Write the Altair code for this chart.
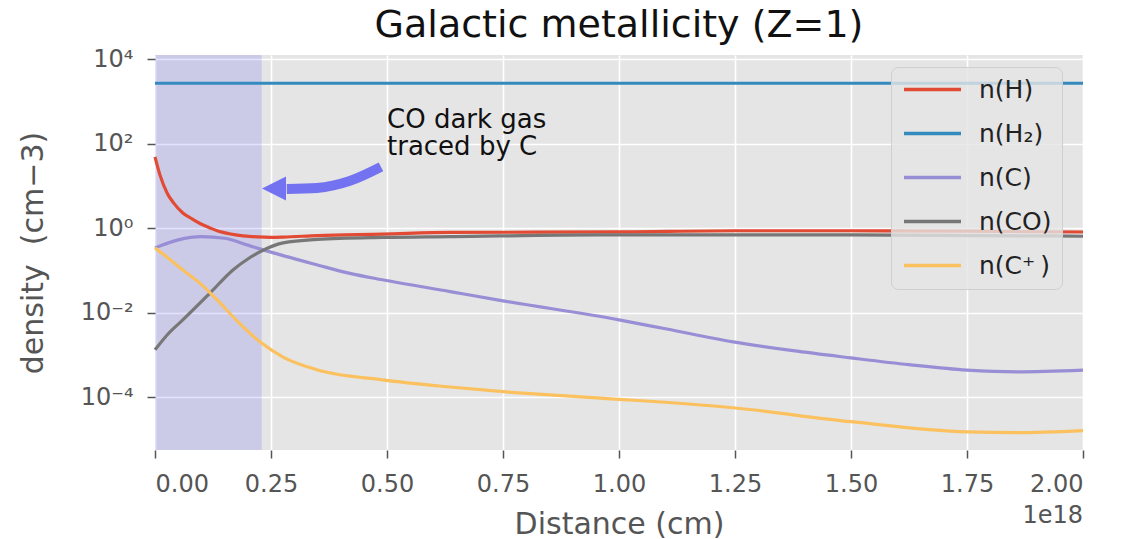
import altair as alt
import pandas as pd

# ---- data (distance in units of 1e18 cm, density in cm^-3) ----
species = ["n(H)", "n(H₂)", "n(C)", "n(CO)", "n(C⁺\u2009)"]
colors = ["#E24A33", "#348ABD", "#988ED5", "#777777", "#FBC15E"]

h_x = [0.0, 0.011, 0.026, 0.04, 0.06, 0.08, 0.097, 0.12, 0.134, 0.16, 0.19, 0.22, 0.25, 0.276,
       0.35, 0.49, 0.636, 1.0, 1.25, 1.5, 1.75, 2.0]
h_y = [49.0, 17.8, 6.84, 3.98, 2.30, 1.66, 1.29, 1.0, 0.871, 0.741, 0.661, 0.624, 0.610, 0.617,
       0.668, 0.721, 0.794, 0.817, 0.871, 0.871, 0.851, 0.813]

h2_x = [0.0, 2.0]
h2_y = [2700.0, 2700.0]

c_x = [0.0, 0.05, 0.10, 0.15, 0.2, 0.226, 0.276, 0.35, 0.42, 0.49, 0.636, 0.75, 1.0, 1.1, 1.246,
       1.375, 1.5, 1.625, 1.75, 1.858, 2.0]
c_y = [0.342, 0.528, 0.631, 0.579, 0.398, 0.324, 0.224, 0.135, 0.0851, 0.0603, 0.0316, 0.0191,
       0.00676, 0.00417, 0.00204, 0.00126, 0.000851, 0.000589, 0.000437, 0.000398, 0.000437]

co_x = [0.0, 0.03, 0.06, 0.119, 0.168, 0.2, 0.226, 0.276, 0.35, 0.49, 0.636, 0.96, 1.5, 2.0]
co_y = [0.00132, 0.00331, 0.00676, 0.0295, 0.103, 0.187, 0.275, 0.449, 0.543, 0.605, 0.631,
        0.692, 0.692, 0.646]

cp_x = [0.0, 0.028, 0.06, 0.101, 0.134, 0.179, 0.226, 0.276, 0.349, 0.49, 0.636, 0.75, 0.96,
        1.246, 1.5, 1.75, 1.858, 2.0]
cp_y = [0.342, 0.198, 0.103, 0.0455, 0.020, 0.00603, 0.00204, 0.000891, 0.000447, 0.000257,
        0.000174, 0.000135, 0.0000955, 0.0000562, 0.0000263, 0.0000151, 0.0000145, 0.0000162]

x_ticks = [0.0, 0.25, 0.5, 0.75, 1.0, 1.25, 1.5, 1.75, 2.0]
y_ticks = [1e-4, 1e-2, 1.0, 1e2, 1e4]
y_domain = [10 ** -5.25, 10 ** 4.1]

span_x = [0.0]
span_x2 = [0.23]

# annotation (data coordinates)
note_x = [0.5]
note_y = [236.6]
note_text = [["CO dark gas", "traced by C"]]

arrow_x = [0.284, 0.349, 0.420, 0.487]
arrow_y = [8.5, 9.0, 13.2, 28.3]
head_x = [0.2565]
head_y = [8.75]

rows = []
for name, xs, ys in zip(species, [h_x, h2_x, c_x, co_x, cp_x], [h_y, h2_y, c_y, co_y, cp_y]):
    for xv, yv in zip(xs, ys):
        rows.append({"species": name, "x": xv, "y": yv})
df = pd.DataFrame(rows)

FONT = "DejaVu Sans"
GRAY = "#555555"
ARROW = "#7373f1"

xscale = alt.Scale(domain=[0, 2], nice=False, zero=False)
yscale = alt.Scale(type="log", domain=y_domain, nice=False)

x_axis = alt.Axis(values=x_ticks, format=".2f", title="Distance (cm)", grid=True)
y_axis = alt.Axis(
    values=y_ticks,
    title="density\u00a0\u00a0(cm−3)",
    grid=True,
    labelExpr="datum.value > 5000 ? '10⁴' : datum.value > 50 ? '10²' : datum.value > 0.5 ? '10⁰' : datum.value > 0.005 ? '10⁻²' : '10⁻⁴'",
)

span = alt.Chart(pd.DataFrame({"x0": span_x, "x1": span_x2})).mark_rect(
    color="#0000ff", opacity=0.11
).encode(
    x=alt.X("x0:Q", scale=xscale, axis=x_axis),
    x2="x1:Q",
)

lines = alt.Chart(df).mark_line(strokeWidth=3.2, interpolate="monotone").encode(
    x=alt.X("x:Q", scale=xscale, axis=x_axis),
    y=alt.Y("y:Q", scale=yscale, axis=y_axis),
    color=alt.Color(
        "species:N",
        sort=species,
        scale=alt.Scale(domain=species, range=colors),
        legend=alt.Legend(
            title=None,
            orient="none",
            legendX=736,
            legendY=12,
            padding=10,
            fillColor="rgba(229,229,229,0.8)",
            strokeColor="#cfcfcf",
            cornerRadius=7,
            symbolType="M -1 0 L 5 0",
            symbolSize=361,
            symbolStrokeWidth=3.3,
            labelFontSize=25,
            labelFont=FONT,
            labelColor="#222222",
            labelOffset=53,
            rowPadding=18,
        ),
    ),
    detail="species:N",
)

arrow_body = alt.Chart(pd.DataFrame({"x": arrow_x, "y": arrow_y})).mark_line(
    color=ARROW, strokeWidth=10, interpolate="monotone", strokeCap="butt"
).encode(x=alt.X("x:Q", scale=xscale), y=alt.Y("y:Q", scale=yscale))

arrow_head = alt.Chart(pd.DataFrame({"x": head_x, "y": head_y})).mark_point(
    shape="M -1 0 L 1 -1 L 1 1 Z", filled=True, size=576, color=ARROW, opacity=1
).encode(x=alt.X("x:Q", scale=xscale), y=alt.Y("y:Q", scale=yscale))

note = alt.Chart(pd.DataFrame({"x": note_x, "y": note_y, "t": note_text})).mark_text(
    align="left", baseline="alphabetic", fontSize=26, font=FONT, color="#111111", lineHeight=27
).encode(x=alt.X("x:Q", scale=xscale), y=alt.Y("y:Q", scale=yscale), text="t")

offset_text = alt.Chart(pd.DataFrame({"t": ["1e18"]})).mark_text(
    align="right", baseline="middle", fontSize=24, font=FONT, color=GRAY
).encode(x=alt.value(928), y=alt.value(461), text="t:N")

chart = alt.layer(span, lines, arrow_body, arrow_head, note, offset_text).properties(
    width=928,
    height=395,
    autosize=alt.AutoSizeParams(type="none"),
    padding={"left": 155, "top": 55, "right": 40, "bottom": 89},
    background="white",
    title=alt.TitleParams(
        "Galactic metallicity (Z=1)",
        fontSize=38,
        font=FONT,
        fontWeight="normal",
        color="#111111",
        anchor="middle",
        offset=2,
    ),
).configure_view(
    fill="#E5E5E5", stroke=None
).configure_axis(
    domain=False,
    grid=True,
    gridColor="white",
    gridWidth=1.6,
    tickColor=GRAY,
    tickSize=8,
    tickWidth=1.5,
    labelFont=FONT,
    labelFontSize=24,
    labelColor=GRAY,
    titleFont=FONT,
    titleFontSize=30,
    titleColor=GRAY,
    titleFontWeight="normal",
).configure_axisX(
    labelPadding=14, titlePadding=13
).configure_axisY(
    labelPadding=14, titlePadding=32
)

chart.save("out.html", embed_options={"renderer": "svg", "actions": False})
